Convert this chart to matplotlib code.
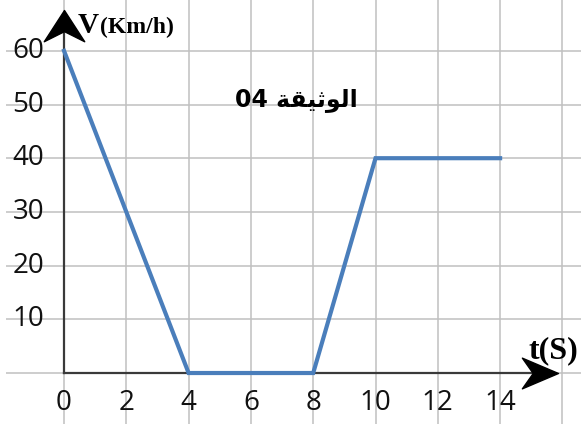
import matplotlib
matplotlib.use("Agg")
import matplotlib.pyplot as plt
from matplotlib.path import Path

# данные графика
t_values = [0, 4, 8, 10, 14]
v_values = [60, 0, 0, 40, 40]

x_ticks = [0, 2, 4, 6, 8, 10, 12, 14]
y_ticks = [10, 20, 30, 40, 50, 60]
x_grid = [0, 2, 4, 6, 8, 10, 12, 14, 16]
y_grid = [0, 10, 20, 30, 40, 50, 60]

# "الوثيقة 04" - формы представления, визуальный порядок
doc_label = "04 " + "\uFE94\uFED8\uFEF4\uFE9B\uFEEE\uFEDF\uFE8D"

line_color = "#4a7ebb"
grid_color = "#c0c0c0"
axis_color = "#3a3a3a"

fig = plt.figure(figsize=(5.81, 4.36), dpi=100)
ax = fig.add_axes([0, 0, 1, 1])
ax.set_xlim(-2.055, 16.597)
ax.set_ylim(-11.73, 69.46)
ax.axis("off")

# сетка
ax.vlines(x_grid, -9.5, 69.46, color=grid_color, lw=1.1, zorder=1)
ax.hlines(y_grid, -1.85, 16.597, color=grid_color, lw=1.1, zorder=1)

# оси
ax.plot([0, 15.4], [0, 0], color=axis_color, lw=1.6, zorder=3)
ax.plot([0, 0], [0, 66.5], color=axis_color, lw=1.6, zorder=3)

# наконечники стрелок (stealth)
arrow_right = Path([(0, 0), (-2, 0.85), (-1.4, 0), (-2, -0.85), (0, 0)],
                   [Path.MOVETO, Path.LINETO, Path.LINETO, Path.LINETO, Path.CLOSEPOLY])
arrow_up = Path([(0, 0), (1.1, -1.7), (0, -1.15), (-1.1, -1.7), (0, 0)],
                [Path.MOVETO, Path.LINETO, Path.LINETO, Path.LINETO, Path.CLOSEPOLY])
ax.plot([15.85], [0], marker=arrow_right, ms=52, color="black", zorder=4)
ax.plot([0], [67.6], marker=arrow_up, ms=45, color="black", zorder=4)

# линия скорости
ax.plot(t_values, v_values, color=line_color, lw=3, solid_joinstyle="miter", zorder=5)

# подписи делений
for y in y_ticks:
    ax.text(-0.64, y, str(y), ha="right", va="center", fontsize=20,
            family="Open Sans", color="#111111", zorder=6)
for x in x_ticks:
    ax.text(x, -5.6, str(x), ha="center", va="center", fontsize=20,
            family="Open Sans", color="#111111", zorder=6)

# подписи осей
ax.text(0.45, 63.3, "V", ha="left", va="baseline", fontsize=21,
        family="Liberation Serif", weight="bold", zorder=6)
ax.text(1.16, 63.3, "(Km/h)", ha="left", va="baseline", fontsize=17,
        family="Liberation Serif", weight="bold", zorder=6)
ax.text(14.9, 2.8, "t(S)", ha="left", va="baseline", fontsize=23,
        family="Liberation Serif", weight="bold", zorder=6)

ax.text(7.45, 50.8, doc_label, ha="center", va="center", fontsize=17,
        family=["DejaVu Sans"], weight="bold", zorder=6)

fig.savefig("out.png", dpi=100)
